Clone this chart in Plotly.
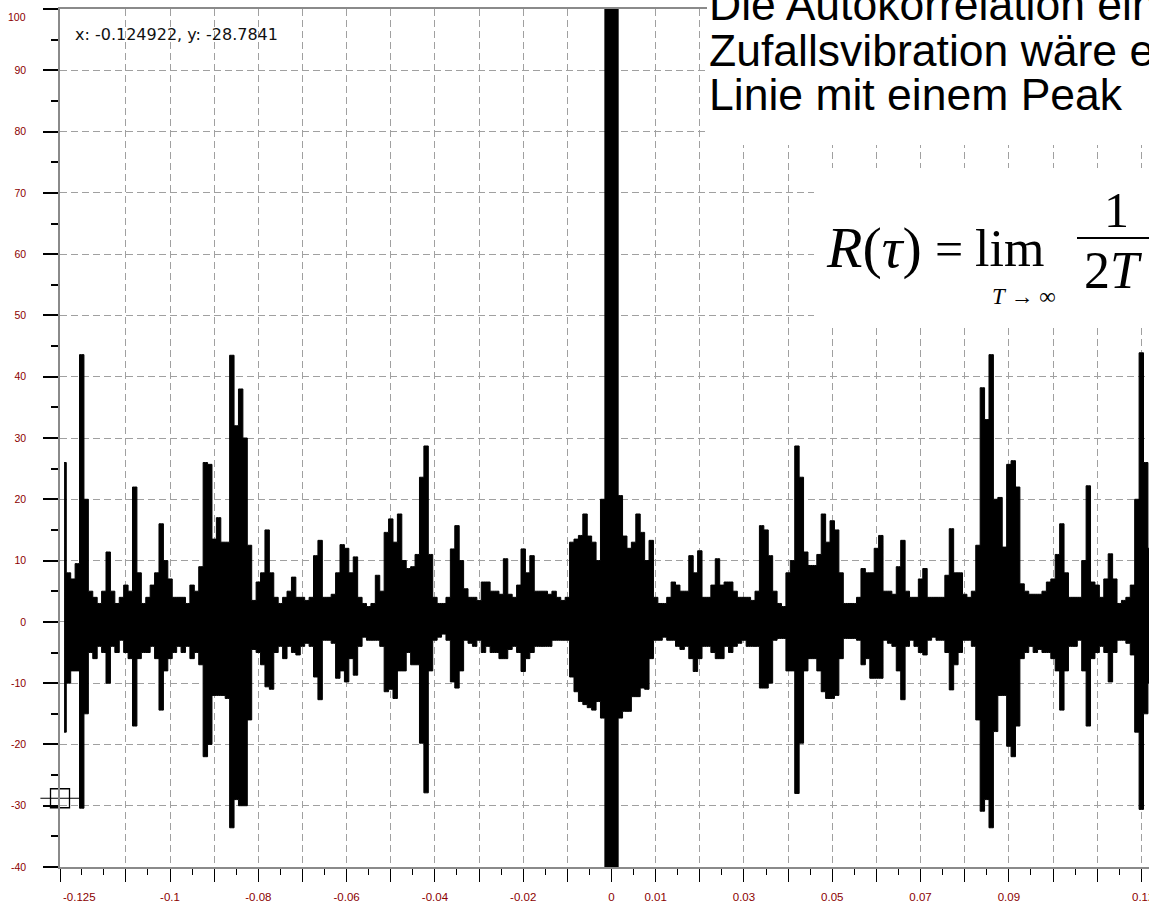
import plotly.graph_objects as go

# Autocorrelation of the measured vibration, sampled every 1 ms of lag.
# For each lag bin the upper and lower extent of the oscillating trace is kept.
lag_ms = list(range(-124, 123))

env_hi = [
    26, 8, 7, 9.5, 43.6, 20, 5, 4, 3, 5,                 # -124 .. -115
    11.4, 5, 3, 4, 6, 5, 22, 8, 3, 4,                    # -114 .. -105
    6, 8, 16, 10, 7, 4, 4, 4, 3, 6,                      # -104 .. -95
    5, 9, 26, 25.7, 13.5, 17, 13, 13, 43.5, 32,          # -94 .. -85
    38, 30, 12.5, 3.5, 6.5, 8, 15, 8, 4, 3,              # -84 .. -75
    4, 5, 7.3, 4, 4, 3.5, 4, 10.8, 13.3, 4,              # -74 .. -65
    4, 4.5, 8, 12.6, 12, 8, 10.6, 4, 3, 2.5,             # -64 .. -55
    3, 7.6, 5, 14.6, 16.8, 13, 17.6, 10, 8.7, 9,         # -54 .. -45
    11, 23.6, 28.7, 11, 4, 3, 3, 4, 11.9, 15.7,          # -44 .. -35
    10, 5.4, 4, 4, 3.5, 6.5, 6.5, 5, 5, 4.5,             # -34 .. -25
    10.3, 4.5, 4, 6, 11.9, 8, 10.8, 5, 5, 5,             # -24 .. -15
    4.5, 5, 4, 3.5, 4, 13, 13.5, 14.1, 17.6, 14,         # -14 .. -5
    13, 10, 20, 110, 180, 110, 20.6, 14, 12, 13,         # -4 .. 5
    17.6, 14.6, 10, 13.3, 4, 3, 3, 4, 6.5, 6,            # 6 .. 15
    5, 5, 10.8, 8, 11.6, 4, 4, 6, 10.3, 6,               # 16 .. 25
    6.5, 6.5, 5, 4, 4, 4, 3.5, 5, 15.7, 15,              # 26 .. 35
    10.8, 5, 3, 2.5, 8, 10, 28.7, 23.6, 11.4, 9.2,       # 36 .. 45
    9.2, 11, 17.6, 13, 16.5, 15, 8, 3, 3, 3,             # 46 .. 55
    4, 8.7, 8, 8, 12, 14.1, 5, 5, 4.5, 9,                # 56 .. 65
    13.3, 5, 4, 4, 7, 8.7, 4, 4, 4, 4,                   # 66 .. 75
    7.6, 15.2, 8, 8, 4.5, 4, 5, 12.5, 38.2, 33,          # 76 .. 85
    43.6, 20, 20.3, 12.2, 25.7, 26.3, 22, 6.2, 5, 4.5,   # 86 .. 95
    4.5, 4.5, 5, 6.5, 7, 11, 16, 8, 4, 4,                # 96 .. 105
    4, 10, 22.2, 6.5, 6, 4, 7, 11.1, 7, 3,               # 106 .. 115
    3.5, 4, 6, 20, 43.9, 26, 12,                         # 116 .. 122
]

env_lo = [
    -18, -10, -8, -8, -30.4, -15, -5, -6, -4, -5,
    -10, -4, -5, -3, -5, -6, -17, -6, -5, -5,
    -4, -6, -14.4, -8, -6, -5, -4, -5, -4, -6,
    -5, -7, -22, -20, -12, -12, -12, -12.5, -33.6, -29,
    -30, -30, -16, -4.5, -5, -7, -10.6, -11, -5, -4,
    -6, -4, -5, -5.4, -4, -3.5, -4, -9, -12.7, -3,
    -3, -3.5, -9.2, -8, -9.8, -6, -8.7, -4, -2.5, -3,
    -3, -3, -4, -11.4, -11, -12.5, -8, -8, -5, -7,
    -7, -19.8, -27.9, -8, -3, -2.5, -2, -3, -9.8, -10.8,
    -8, -3, -3.5, -4, -3, -5, -4, -5, -5, -6,
    -6, -4.5, -4, -5, -8.1, -6, -5, -4, -4, -4,
    -4, -3, -3, -3, -3, -9, -11.4, -13, -13.5, -14,
    -14.4, -13, -15.7, -60, -70, -60, -15.7, -14.6, -14.6, -12.2,
    -12.2, -10.8, -11, -6, -3, -3, -2.5, -3, -3, -4,
    -4.5, -4, -6, -8.1, -6, -4, -4, -5, -6, -6,
    -4, -5, -4, -3.5, -3, -4, -4, -4, -10.8, -10.8,
    -10, -3, -2.7, -2.7, -8, -8, -28, -19.8, -8, -6,
    -6, -8, -11.4, -12.5, -12.5, -12, -6, -2.7, -2.7, -2.7,
    -3, -7, -6, -9.2, -9.2, -9.2, -3, -3.5, -4, -8,
    -12.7, -4, -3, -4, -5, -5.4, -3, -2.5, -3, -3,
    -5, -11.1, -7, -5, -3, -3, -4, -16, -30.9, -29,
    -33.6, -17.9, -12, -12, -20.3, -22, -17, -6, -5, -4,
    -5, -4.5, -5, -5, -6, -8, -14.4, -8, -4, -4,
    -3, -8, -17, -6, -5, -4, -5, -9.8, -5, -3,
    -3, -3.5, -5.4, -18, -30.6, -15, -10,
]

# data cursor readout
cursor_x = -0.124922
cursor_y = -28.7841

# axis ticks
x_major = [-0.124922, -0.11, -0.10, -0.09, -0.08, -0.07, -0.06, -0.05, -0.04,
           -0.03, -0.02, -0.01, 0.0, 0.01, 0.02, 0.03, 0.04, 0.05, 0.06,
           0.07, 0.08, 0.09, 0.10, 0.11, 0.12]
x_minor = [-0.12, -0.115, -0.105, -0.095, -0.085, -0.075, -0.065, -0.055,
           -0.045, -0.035, -0.025, -0.015, -0.005, 0.005, 0.015, 0.025,
           0.035, 0.045, 0.055, 0.065, 0.075, 0.085, 0.095, 0.105, 0.115]
x_labels = {-0.1: "-0.1", -0.08: "-0.08", -0.06: "-0.06", -0.04: "-0.04",
            -0.02: "-0.02", 0.0: "0", 0.01: "0.01", 0.03: "0.03",
            0.05: "0.05", 0.07: "0.07", 0.09: "0.09"}
y_major = [-40, -30, -20, -10, 0, 10, 20, 30, 40, 50, 60, 70, 80, 90, 100]

# ---------------------------------------------------------------- geometry
W, H = 1149, 912
ML, MR, MT, MB = 60, 0, 9, 45
PW, PH = W - ML - MR, H - MT - MB
X_RANGE = [-0.124922, 0.121744]


def xp(px):
    return (px - ML) / PW


def yp(py):
    return (H - MB - py) / PH


# ---------------------------------------------------------------- trace
lag_s = [v / 1000 for v in lag_ms]

fig = go.Figure()
# upper envelope, then lower envelope filled up to it (one column per lag bin)
fig.add_trace(go.Scatter(x=lag_s, y=env_hi, mode="lines",
                         line=dict(color="black", width=1, shape="hvh"),
                         hoverinfo="skip", showlegend=False))
fig.add_trace(go.Scatter(x=lag_s, y=env_lo, mode="lines",
                         line=dict(color="black", width=1, shape="hvh"),
                         fill="tonexty", fillcolor="black",
                         hoverinfo="skip", showlegend=False))

# data cursor marker
fig.add_trace(go.Scatter(x=[cursor_x], y=[cursor_y], mode="markers",
                         marker=dict(symbol="line-ew-open", size=28,
                                     color="black",
                                     line=dict(color="black", width=1.2)),
                         cliponaxis=False, showlegend=False, hoverinfo="skip"))
fig.add_trace(go.Scatter(x=[cursor_x], y=[cursor_y], mode="markers",
                         marker=dict(symbol="square-open", size=19,
                                     color="black",
                                     line=dict(color="black", width=1.3)),
                         cliponaxis=False, showlegend=False, hoverinfo="skip"))

grid_style = dict(showgrid=True, gridcolor="#a0a0a0", gridwidth=1,
                  griddash="7px,4px")
sans = "Liberation Sans, Arial, sans-serif"
serif = "Liberation Serif, Times New Roman, serif"
label_red = "#8b0000"

fig.update_xaxes(
    range=X_RANGE, tickmode="array", tickvals=x_major,
    ticktext=[x_labels.get(round(v, 3), "") for v in x_major],
    ticks="outside", ticklen=13, tickwidth=1.4, tickcolor="black",
    minor=dict(tickmode="array", tickvals=x_minor, ticks="outside",
               ticklen=6, tickwidth=1.4, tickcolor="black", showgrid=False),
    showline=True, linecolor="#8a8a8a", linewidth=1.5, mirror=True,
    zeroline=False, tickfont=dict(family=sans, size=11.5, color=label_red),
    ticklabelstandoff=5, **grid_style)

fig.update_yaxes(
    range=[-40, 100], tickmode="array", tickvals=y_major,
    ticktext=[str(v) if v != 100 else "" for v in y_major],
    ticks="outside", ticklen=15, tickwidth=1.6, tickcolor="black",
    minor=dict(tickmode="array", tickvals=[v + 5 for v in y_major[:-1]],
               ticks="outside", ticklen=7, tickwidth=1.6, tickcolor="black",
               showgrid=False),
    showline=True, linecolor="#8a8a8a", linewidth=1.5, mirror=False,
    zeroline=False, tickfont=dict(family=sans, size=10.5, color=label_red),
    ticklabelstandoff=15, **grid_style)

# white panels carrying the explanatory text and the formula
fig.add_shape(type="rect", xref="paper", yref="paper",
              x0=xp(707), x1=xp(W + 5), y0=yp(145), y1=yp(-5),
              fillcolor="white", line=dict(width=0), layer="above")
fig.add_shape(type="rect", xref="paper", yref="paper",
              x0=xp(814), x1=xp(W + 5), y0=yp(325), y1=yp(168),
              fillcolor="white", line=dict(width=0), layer="above")

annotations = []


def text(s, px, py, size, family, xanchor="left", color="black"):
    annotations.append(dict(text=s, x=xp(px), y=yp(py), xref="paper",
                            yref="paper", xanchor=xanchor, yanchor="middle",
                            showarrow=False,
                            font=dict(family=family, size=size, color=color)))


# explanatory text (runs off the right edge of the page)
for line, base in [("Die Autokorrelation einer", 20),
                   ("Zufallsvibration wäre eine", 66),
                   ("Linie mit einem Peak", 110)]:
    text(line, 707, base - 0.35 * 44.5, 44.5, sans)

# formula R(tau) = lim_{T->inf} 1/(2T) ...
text("<i>R</i>(<i>τ</i>)", 874, 248, 58, serif, "center")
text("=", 948.5, 249, 50, serif, "center")
text("lim", 1009, 249, 52, serif, "center")
text("<i>T</i> → ∞", 1023.5, 297, 23, serif, "center")
text("1", 1116.5, 210, 50, serif, "center")
text("2<i>T</i>", 1112.5, 270, 52, serif, "center")
fig.add_shape(type="line", xref="paper", yref="paper",
              x0=xp(1077), x1=xp(W + 5), y0=yp(238), y1=yp(238),
              line=dict(color="black", width=2.2), layer="above")

# data cursor readout and edge tick labels
text("x: -0.124922, y: -28.7841", 73, 35, 16,
     "DejaVu Sans, Verdana, sans-serif", color="#111111")
text("-0.125", 61, 897, 11.5, sans, color=label_red)
text("0.12", 1130, 897, 11.5, sans, color=label_red)
text("100", 28, 17, 10.5, sans, "right", color=label_red)

fig.update_layout(
    width=W, height=H,
    margin=dict(l=ML, r=MR, t=MT, b=MB, pad=0),
    paper_bgcolor="white", plot_bgcolor="white",
    showlegend=False, annotations=annotations,
)

fig.write_html("out.html")
